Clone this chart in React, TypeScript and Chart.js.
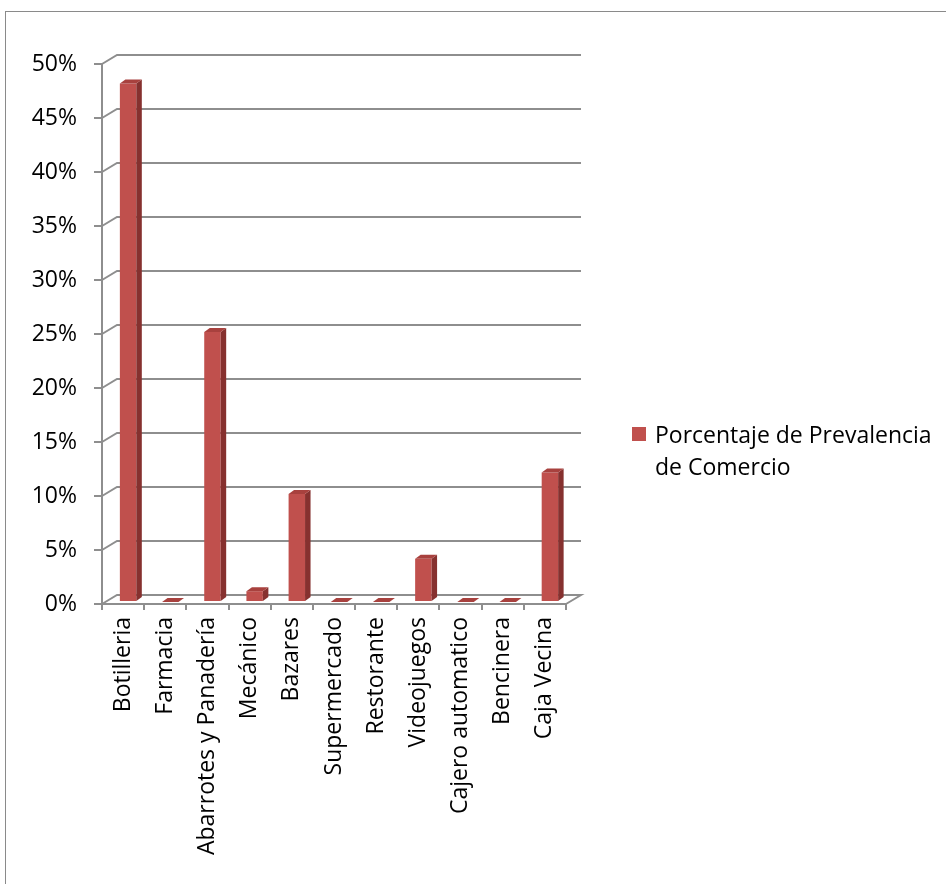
import React, { useEffect, useRef } from "react";
import { Chart, registerables } from "chart.js";

Chart.register(...registerables);

const categories: string[] = [
  "Botilleria",
  "Farmacia",
  "Abarrotes y Panadería",
  "Mecánico",
  "Bazares",
  "Supermercado",
  "Restorante",
  "Videojuegos",
  "Cajero automatico",
  "Bencinera",
  "Caja Vecina",
];
const prevalencia: number[] = [0.48, 0, 0.25, 0.01, 0.1, 0, 0, 0.04, 0, 0, 0.12];
const seriesName = "Porcentaje de Prevalencia de Comercio";
const legendLines: string[] = ["Porcentaje de Prevalencia", "de Comercio"];
const yMin = 0;
const yMax = 0.5;
const yStep = 0.05;

const FONT = "'Open Sans', 'DejaVu Sans', sans-serif";
const GRID = "#8e8e8e";
const FRONT = "#C0504D";
const SIDE = "#86312F";
const TOP = "#A8413E";

// 3D depth of walls and bars
const WALL_DX = 15;
const WALL_DY = -9;
const BAR_SHIFT_X = 5;
const BAR_SHIFT_Y = -2;
const BAR_DX = 5.5;
const BAR_DY = -4;

const threeD = {
  id: "threeD",
  beforeDatasetsDraw(chart: any) {
    const { ctx, chartArea, scales } = chart;
    const y = scales.y;
    const left = chartArea.left;
    const right = chartArea.right;
    ctx.save();
    ctx.strokeStyle = GRID;
    ctx.lineWidth = 2;
    ctx.lineJoin = "miter";
    y.ticks.forEach((t: any) => {
      const yf = y.getPixelForValue(t.value);
      ctx.beginPath();
      ctx.moveTo(left, yf);
      ctx.lineTo(left + WALL_DX, yf + WALL_DY);
      ctx.lineTo(right + WALL_DX, yf + WALL_DY);
      if (t.value === yMin) {
        ctx.lineTo(right, yf);
      }
      ctx.stroke();
    });
    ctx.restore();
    ctx.save();
    ctx.translate(BAR_SHIFT_X, BAR_SHIFT_Y);
  },
  afterDatasetsDraw(chart: any) {
    const { ctx } = chart;
    const meta = chart.getDatasetMeta(0);
    meta.data.forEach((bar: any) => {
      const p = bar.getProps(["x", "y", "base", "width"], true);
      const l = p.x - p.width / 2;
      const r = p.x + p.width / 2;
      const top = Math.min(p.y, p.base);
      const bottom = Math.max(p.y, p.base);
      // side face
      if (bottom - top > 0.5) {
        ctx.fillStyle = SIDE;
        ctx.beginPath();
        ctx.moveTo(r, top);
        ctx.lineTo(r + BAR_DX, top + BAR_DY);
        ctx.lineTo(r + BAR_DX, bottom + BAR_DY);
        ctx.lineTo(r, bottom);
        ctx.closePath();
        ctx.fill();
      }
      // top face
      ctx.fillStyle = TOP;
      ctx.beginPath();
      ctx.moveTo(l, top);
      ctx.lineTo(l + BAR_DX, top + BAR_DY);
      ctx.lineTo(r + BAR_DX, top + BAR_DY);
      ctx.lineTo(r, top);
      ctx.closePath();
      ctx.fill();
    });
    ctx.restore();
  },
  afterDraw(chart: any) {
    const { ctx } = chart;
    ctx.save();
    ctx.fillStyle = FRONT;
    ctx.fillRect(632, 427, 14, 14);
    ctx.fillStyle = "#000000";
    ctx.font = `23px ${FONT}`;
    ctx.textAlign = "left";
    ctx.textBaseline = "alphabetic";
    legendLines.forEach((line, i) => {
      ctx.fillText(line, 655, 443 + i * 32);
    });
    ctx.restore();
  },
};

export default function App() {
  const ref = useRef<HTMLCanvasElement | null>(null);

  useEffect(() => {
    if (!ref.current) return;
    const chart = new Chart(ref.current, {
      type: "bar",
      data: {
        labels: categories,
        datasets: [
          {
            label: seriesName,
            data: prevalencia,
            backgroundColor: FRONT,
            borderWidth: 0,
            barPercentage: 0.39,
            categoryPercentage: 1,
          },
        ],
      },
      options: {
        responsive: false,
        animation: false,
        devicePixelRatio: 1,
        layout: { padding: { top: 64, right: 380, left: 0, bottom: 0 } },
        plugins: {
          legend: { display: false },
          tooltip: { enabled: false },
        },
        scales: {
          x: {
            offset: true,
            grid: {
              offset: true,
              drawOnChartArea: false,
              drawTicks: true,
              tickLength: 6,
              color: GRID,
              lineWidth: 2,
            },
            border: { display: true, color: GRID, width: 2 },
            ticks: {
              autoSkip: false,
              minRotation: 90,
              maxRotation: 90,
              padding: 7,
              color: "#000000",
              font: { family: FONT, size: 23 },
            },
            afterFit(scale: any) {
              scale.height = 280;
            },
          },
          y: {
            min: yMin,
            max: yMax,
            grid: {
              drawOnChartArea: false,
              drawTicks: true,
              tickLength: 8,
              color: GRID,
              lineWidth: 2,
            },
            border: { display: true, color: GRID, width: 2 },
            ticks: {
              stepSize: yStep,
              padding: 17,
              color: "#000000",
              font: { family: FONT, size: 23 },
              callback: (v: any) => `${Math.round(Number(v) * 100)}%`,
            },
            afterFit(scale: any) {
              scale.width = 102;
            },
          },
        },
      },
      plugins: [threeD],
    });
    return () => chart.destroy();
  }, []);

  return (
    <div>
      <div
        style={{
          position: "fixed",
          left: 5,
          top: 11,
          width: 1000,
          height: 1000,
          border: "1px solid #8a8a8a",
          boxSizing: "border-box",
        }}
      />
      <canvas
        ref={ref}
        width={946}
        height={884}
        style={{ position: "fixed", left: 0, top: 0, width: 946, height: 884 }}
      />
    </div>
  );
}
